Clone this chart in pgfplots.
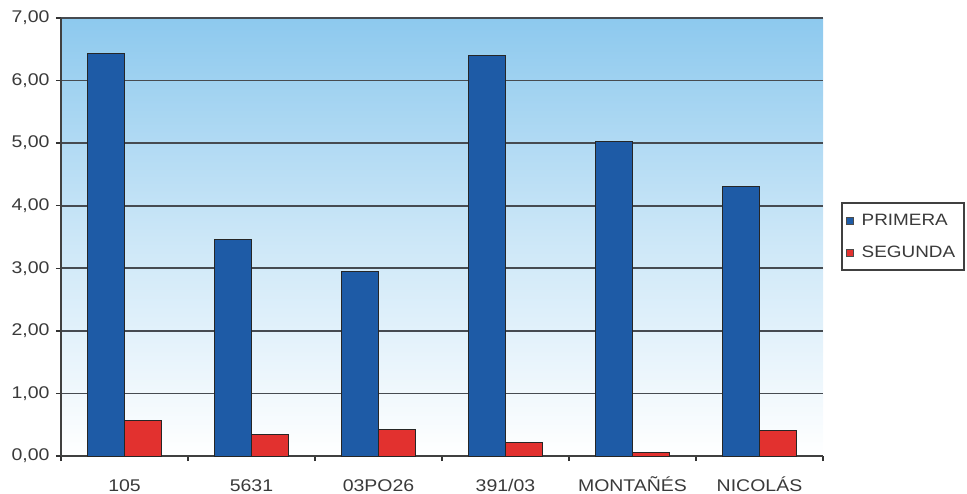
\documentclass[border=0pt]{standalone}
\usepackage{pgfplots}
\pgfplotsset{compat=1.18}
\usepackage{fontspec}
\setmainfont{Liberation Sans}[FakeStretch=1.15]
\definecolor{primera}{HTML}{1E5BA6}
\definecolor{segunda}{HTML}{E2312F}
\definecolor{skytop}{HTML}{8DC9EE}
\definecolor{gridc}{HTML}{464B51}
\definecolor{txt}{HTML}{3A3A3A}
\definecolor{framec}{HTML}{404040}
\begin{document}
\begin{tikzpicture}[x=1bp,y=1bp]
\begin{axis}[
  at={(0,0)}, anchor=south west,
  scale only axis,
  width=762bp, height=438bp,
  ybar=0pt, bar width=37bp,
  xmin=-0.5, xmax=5.5,
  ymin=0, ymax=7,
  ytick={0,1,...,7},
  xtick={0,...,5},
  xticklabels={105,5631,03PO26,391/03,MONTAÑÉS,NICOLÁS},
  minor xtick={-0.5,0.5,...,5.5},
  major x tick style={draw=none},
  tick align=outside,
  major tick length=5bp, minor tick length=5bp,
  tick style={line width=1.3bp, color=black!80},
  ymajorgrids,
  grid style={line width=1.8bp, color=gridc},
  axis line style={line width=1.3bp, color=black!75},
  axis x line*=bottom, axis y line*=left,
  axis background/.style={shade, top color=skytop, bottom color=white, middle color=skytop!45!white},
  ticklabel style={font=\fontsize{17}{19}\selectfont, text=txt},
  /pgf/number format/.cd, use comma, fixed, fixed zerofill, precision=2, assume math mode=true,
  /pgfplots/.cd,
  xticklabel style={anchor=base, text height=12bp, text depth=0bp, inner sep=0pt, yshift=-30bp},
  yticklabel style={xshift=-3bp},
  legend style={at={(1,0.5)}, anchor=west, xshift=20bp, fill=white, draw=none,
    font=\fontsize{16.5}{18}\selectfont, text=txt, inner xsep=3bp, inner ysep=7bp,
    row sep=15bp, column sep=7bp, nodes={inner xsep=1bp}},
  legend cell align=left,
  legend image code/.code={\draw[#1, draw=black!70, line width=0.5bp] (-2bp,-3.5bp) rectangle (5bp,3.5bp);},
]
\addplot[fill=primera, draw=black!85, line width=1bp] coordinates {
  (0,6.43) (1,3.46) (2,2.95) (3,6.40) (4,5.03) (5,4.31)};
\addplot[fill=segunda, draw=black!85, line width=1bp] coordinates {
  (0,0.56) (1,0.34) (2,0.42) (3,0.21) (4,0.05) (5,0.40)};
\legend{PRIMERA,SEGUNDA}
\end{axis}
% frame around the legend block
\draw[framec, line width=1.5bp] (781bp,186bp) rectangle (903bp,253bp);
\pgfresetboundingbox
\path (-61bp,-37.5bp) rectangle (906bp,456bp);
\end{tikzpicture}
\end{document}
